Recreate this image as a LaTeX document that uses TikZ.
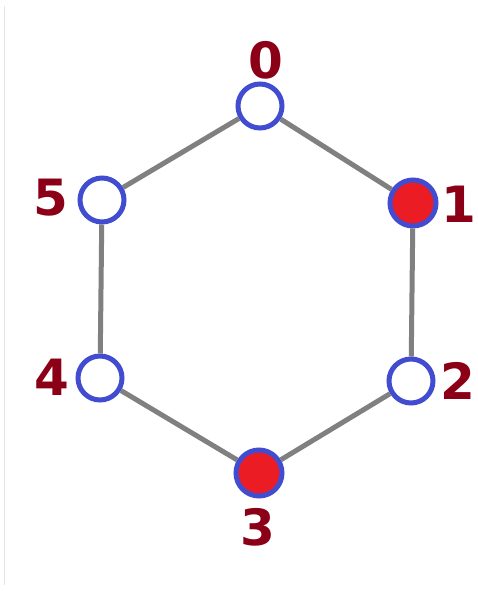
\documentclass[tikz,border=0pt]{standalone}
\usepackage{fontspec}
\setmainfont{DejaVu Sans}

\definecolor{nodeblue}{RGB}{66,76,208}
\definecolor{nodered}{RGB}{236,28,36}
\definecolor{labelred}{RGB}{139,0,22}
\definecolor{edgegray}{RGB}{128,128,128}

\newcommand*{\pagew}{477}
\newcommand*{\pageh}{591}

\begin{document}
\begin{tikzpicture}
[
	x=1pt,y=-1pt,
	emptypt/.style={circle,draw=nodeblue,line width=5pt,fill=white,inner sep=0pt,minimum size=44pt},
	fullpt/.style={emptypt,fill=nodered,minimum size=46pt},
	numlabel/.style={text=labelred,font=\fontsize{50}{50}\selectfont\bfseries,inner sep=0pt},
	ringedge/.style={edgegray,line width=5pt}
]

	% page
	\useasboundingbox (0,0) rectangle (\pagew,\pageh);
	\draw[black!10,line width=1pt] (4,6) -- (4,585);

	% vertices
	\foreach \i/\x/\y/\s in {0/260/106/emptypt,1/413/203/fullpt,2/411/381/emptypt,
		3/259/473/fullpt,4/100/378/emptypt,5/102/200/emptypt} {
		\node[\s] (n\i) at (\x,\y) {};
	}

	% hexagon edges
	\foreach \i/\j in {0/1,1/2,2/3,3/4,4/5,5/0} {
		\draw[ringedge] (n\i) -- (n\j);
	}

	% vertex numbers
	\node[numlabel] (l0) at (266,60) {0};
	\node[numlabel] (l1) at (459,204) {1};
	\node[numlabel] (l2) at (458,381) {2};
	\node[numlabel] (l3) at (258,527) {3};
	\node[numlabel] (l4) at (52,377) {4};
	\node[numlabel] (l5) at (51,198) {5};

\end{tikzpicture}
\end{document}
